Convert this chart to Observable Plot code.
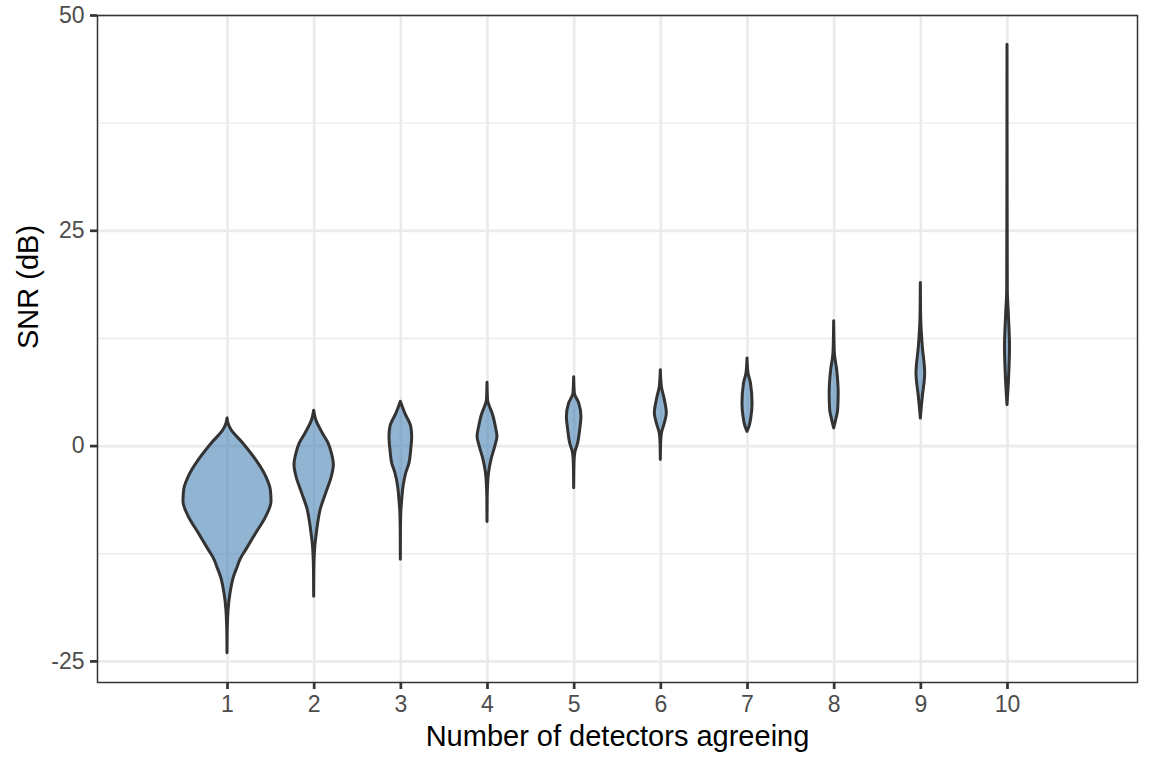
<!DOCTYPE html>
<html><head><meta charset="utf-8">
<script src="https://cdn.jsdelivr.net/npm/d3@7"></script>
<script src="https://cdn.jsdelivr.net/npm/@observablehq/plot@0.6"></script>
<style>body{margin:0;background:#fff;}</style>
</head><body><div id="chart"></div>
<script>
const detectors = [1, 2, 3, 4, 5, 6, 7, 8, 9, 10];
// SNR (dB) sample points of each violin outline, top to bottom
const violinSNR = [
  [3.22, 2.6, 1.86, 0.31, -1.63, -3.56, -5.11, -6.47, -8.21, -10.14, -12.08, -13.2, -14.0, -15.2, -17.1, -19.0, -20.6, -22.0, -24.05],
  [4.1, 3.02, 1.47, 0.31, -0.85, -2.2, -3.56, -5.49, -7.43, -8.6, -10.1, -11.7, -13.2, -15.0, -17.5],
  [5.14, 3.8, 2.24, 1.08, -0.46, -2.0, -3.17, -4.72, -6.27, -7.8, -10.0, -13.2],
  [7.35, 5.34, 4.5, 3.8, 2.24, 1.08, -0.08, -1.6, -3.2, -4.7, -6.0, -8.8],
  [8.0, 6.1, 4.95, 3.4, 1.86, 0.31, -0.85, -2.0, -4.9],
  [8.8, 6.88, 5.34, 3.8, 2.63, 1.47, 0.5, -1.6],
  [10.17, 8.43, 7.27, 4.95, 3.4, 2.24, 1.66],
  [14.5, 12.5, 10.75, 8.8, 6.1, 4.18, 3.0, 2.05],
  [18.95, 16.0, 14.2, 11.5, 8.43, 5.7, 4.18, 3.2],
  [46.6, 30.0, 18.1, 15.4, 11.5, 7.66, 4.76]
];
// half-width of each violin (density, in category units) at those SNR values
const violinHalfWidth = [
  [0, 0.012, 0.046, 0.181, 0.331, 0.447, 0.50, 0.508, 0.447, 0.331, 0.216, 0.15, 0.12, 0.075, 0.035, 0.013, 0.005, 0.0015, 0],
  [0, 0.023, 0.10, 0.166, 0.204, 0.227, 0.204, 0.139, 0.074, 0.052, 0.031, 0.013, 0.005, 0.0015, 0],
  [0, 0.05, 0.12, 0.131, 0.12, 0.10, 0.062, 0.031, 0.016, 0.005, 0.001, 0],
  [0, 0.006, 0.03, 0.058, 0.096, 0.115, 0.089, 0.046, 0.017, 0.006, 0.002, 0],
  [0, 0.008, 0.058, 0.084, 0.069, 0.046, 0.012, 0.004, 0],
  [0, 0.012, 0.046, 0.069, 0.046, 0.012, 0.004, 0],
  [0, 0.012, 0.04, 0.058, 0.046, 0.023, 0],
  [0, 0.003, 0.008, 0.035, 0.052, 0.046, 0.023, 0],
  [0, 0.002, 0.006, 0.023, 0.05, 0.023, 0.008, 0],
  [0, 0.001, 0.0035, 0.015, 0.029, 0.017, 0]
];
const yTicks = [-25, 0, 25, 50];
const yMinorTicks = [-12.5, 12.5, 37.5];
const xTitle = "Number of detectors agreeing";
const yTitle = "SNR (dB)";

const rows = detectors.flatMap((d, i) =>
  violinSNR[i].map((s, j) => ({detectors: d, snr: s, w: violinHalfWidth[i][j]}))
    .sort((a, b) => a.snr - b.snr)
);

const chart = Plot.plot({
  width: 1152,
  height: 768,
  marginLeft: 97,
  marginRight: 15,
  marginTop: 15,
  marginBottom: 86,
  x: {domain: [-0.5, 11.5]},
  y: {domain: [-27.45, 50]},
  style: {fontFamily: "'Liberation Sans', Arial, sans-serif", background: "white"},
  marks: [
    Plot.gridY(yMinorTicks, {stroke: "#ebebeb", strokeOpacity: 1, strokeWidth: 1.35}),
    Plot.gridY(yTicks, {stroke: "#ebebeb", strokeOpacity: 1, strokeWidth: 2.7}),
    Plot.gridX(detectors, {stroke: "#ebebeb", strokeOpacity: 1, strokeWidth: 2.7}),
    Plot.areaX(rows, {
      y: "snr",
      x1: d => d.detectors - d.w,
      x2: d => d.detectors + d.w,
      z: "detectors",
      fill: "steelblue",
      fillOpacity: 0.6,
      stroke: "#333333",
      strokeWidth: 3,
      strokeLinejoin: "round",
      curve: "monotone-y"
    }),
    Plot.frame({stroke: "#333333", strokeWidth: 1.5}),
    Plot.axisY(yTicks, {tickSize: 7, tickPadding: 6, fontSize: 23, fill: "#4d4d4d", stroke: "#333333", strokeWidth: 2.7, tickFormat: d => String(d), label: null}),
    Plot.axisX(detectors, {tickSize: 7, tickPadding: 6, fontSize: 23, fill: "#4d4d4d", stroke: "#333333", strokeWidth: 2.7, tickFormat: d => String(d), label: null}),
    Plot.text([xTitle], {text: d => d, frameAnchor: "bottom", dy: 63, lineAnchor: "bottom", fontSize: 29, fill: "black"}),
    Plot.text([yTitle], {text: d => d, frameAnchor: "left", dx: -60, rotate: -90, lineAnchor: "bottom", fontSize: 29, fill: "black"})
  ]
});
document.getElementById("chart").appendChild(chart);
</script>
</body></html>
